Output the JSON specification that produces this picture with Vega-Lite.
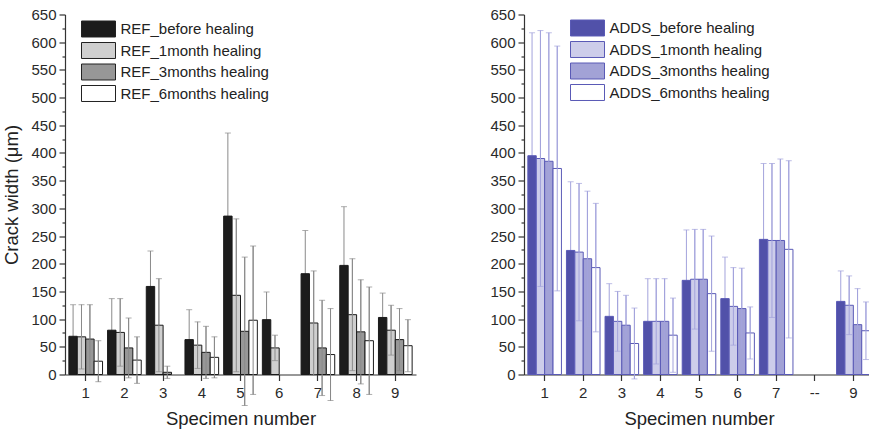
{
  "$schema": "https://vega.github.io/schema/vega-lite/v6.json",
  "background": "white",
  "padding": {"left": 2, "top": 7.5, "right": 0, "bottom": 0},
  "config": {
    "font": "Liberation Sans",
    "view": {"stroke": null},
    "axis": {"labelFont": "Liberation Sans", "labelFontSize": 15, "labelColor": "#2a2a2a", "titleFont": "Liberation Sans", "titleFontSize": 18.5, "titleFontWeight": "normal", "titleColor": "#222", "domainColor": "#333", "tickColor": "#333", "domainWidth": 1.2, "tickWidth": 1.2, "grid": false, "labelOverlap": false, "labelBound": false},
    "legend": {"orient": "none", "title": null, "symbolType": "M-2,-0.94H2V0.94H-2Z", "symbolSize": 289, "labelFont": "Liberation Sans", "labelFontSize": 15, "labelColor": "#222", "labelOffset": 13, "labelLimit": 400, "rowPadding": 1.5, "symbolStrokeWidth": 1, "padding": 0}
  },
  "datasets": {
    "ref": [
      {"specimen": "1", "series": "REF_before healing", "value": 69, "lo": 12, "hi": 126},
      {"specimen": "1", "series": "REF_1month healing", "value": 68, "lo": 10, "hi": 126},
      {"specimen": "1", "series": "REF_3months healing", "value": 64, "lo": 2, "hi": 126},
      {"specimen": "1", "series": "REF_6months healing", "value": 24, "lo": -13, "hi": 61},
      {"specimen": "2", "series": "REF_before healing", "value": 80, "lo": 23, "hi": 137},
      {"specimen": "2", "series": "REF_1month healing", "value": 76, "lo": 15, "hi": 137},
      {"specimen": "2", "series": "REF_3months healing", "value": 48, "lo": -6, "hi": 102},
      {"specimen": "2", "series": "REF_6months healing", "value": 26, "lo": -16, "hi": 68},
      {"specimen": "3", "series": "REF_before healing", "value": 159, "lo": 95, "hi": 223},
      {"specimen": "3", "series": "REF_1month healing", "value": 89, "lo": 5, "hi": 173},
      {"specimen": "3", "series": "REF_3months healing", "value": 4, "lo": -7, "hi": 15},
      {"specimen": "4", "series": "REF_before healing", "value": 63, "lo": 9, "hi": 117},
      {"specimen": "4", "series": "REF_1month healing", "value": 53, "lo": 11, "hi": 95},
      {"specimen": "4", "series": "REF_3months healing", "value": 40, "lo": -7, "hi": 87},
      {"specimen": "4", "series": "REF_6months healing", "value": 31, "lo": -6, "hi": 68},
      {"specimen": "5", "series": "REF_before healing", "value": 286, "lo": 136, "hi": 436},
      {"specimen": "5", "series": "REF_1month healing", "value": 143, "lo": 5, "hi": 281},
      {"specimen": "5", "series": "REF_3months healing", "value": 78, "lo": -56, "hi": 212},
      {"specimen": "5", "series": "REF_6months healing", "value": 98, "lo": -36, "hi": 232},
      {"specimen": "6", "series": "REF_before healing", "value": 99, "lo": 49, "hi": 149},
      {"specimen": "6", "series": "REF_1month healing", "value": 48, "lo": 25, "hi": 71},
      {"specimen": "7", "series": "REF_before healing", "value": 182, "lo": 104, "hi": 260},
      {"specimen": "7", "series": "REF_1month healing", "value": 93, "lo": -1, "hi": 187},
      {"specimen": "7", "series": "REF_3months healing", "value": 48, "lo": -38, "hi": 134},
      {"specimen": "7", "series": "REF_6months healing", "value": 36, "lo": -47, "hi": 119},
      {"specimen": "8", "series": "REF_before healing", "value": 197, "lo": 91, "hi": 303},
      {"specimen": "8", "series": "REF_1month healing", "value": 108, "lo": 7, "hi": 209},
      {"specimen": "8", "series": "REF_3months healing", "value": 77, "lo": -17, "hi": 171},
      {"specimen": "8", "series": "REF_6months healing", "value": 61, "lo": -36, "hi": 158},
      {"specimen": "9", "series": "REF_before healing", "value": 103, "lo": 59, "hi": 147},
      {"specimen": "9", "series": "REF_1month healing", "value": 80, "lo": 35, "hi": 125},
      {"specimen": "9", "series": "REF_3months healing", "value": 63, "lo": 7, "hi": 119},
      {"specimen": "9", "series": "REF_6months healing", "value": 52, "lo": 5, "hi": 99}
    ],
    "adds": [
      {"specimen": "1", "series": "ADDS_before healing", "value": 395, "lo": 173, "hi": 617},
      {"specimen": "1", "series": "ADDS_1month healing", "value": 390, "lo": 159, "hi": 621},
      {"specimen": "1", "series": "ADDS_3months healing", "value": 385, "lo": 153, "hi": 617},
      {"specimen": "1", "series": "ADDS_6months healing", "value": 372, "lo": 151, "hi": 593},
      {"specimen": "2", "series": "ADDS_before healing", "value": 224, "lo": 100, "hi": 348},
      {"specimen": "2", "series": "ADDS_1month healing", "value": 221, "lo": 97, "hi": 345},
      {"specimen": "2", "series": "ADDS_3months healing", "value": 209, "lo": 87, "hi": 331},
      {"specimen": "2", "series": "ADDS_6months healing", "value": 193, "lo": 77, "hi": 309},
      {"specimen": "3", "series": "ADDS_before healing", "value": 105, "lo": 46, "hi": 164},
      {"specimen": "3", "series": "ADDS_1month healing", "value": 96, "lo": 42, "hi": 150},
      {"specimen": "3", "series": "ADDS_3months healing", "value": 89, "lo": 35, "hi": 143},
      {"specimen": "3", "series": "ADDS_6months healing", "value": 56, "lo": -8, "hi": 120},
      {"specimen": "4", "series": "ADDS_before healing", "value": 96, "lo": 19, "hi": 173},
      {"specimen": "4", "series": "ADDS_1month healing", "value": 96, "lo": 19, "hi": 173},
      {"specimen": "4", "series": "ADDS_3months healing", "value": 96, "lo": 19, "hi": 173},
      {"specimen": "4", "series": "ADDS_6months healing", "value": 71, "lo": 4, "hi": 138},
      {"specimen": "5", "series": "ADDS_before healing", "value": 170, "lo": 79, "hi": 261},
      {"specimen": "5", "series": "ADDS_1month healing", "value": 172, "lo": 82, "hi": 262},
      {"specimen": "5", "series": "ADDS_3months healing", "value": 172, "lo": 82, "hi": 262},
      {"specimen": "5", "series": "ADDS_6months healing", "value": 146, "lo": 42, "hi": 250},
      {"specimen": "6", "series": "ADDS_before healing", "value": 137, "lo": 62, "hi": 212},
      {"specimen": "6", "series": "ADDS_1month healing", "value": 123, "lo": 53, "hi": 193},
      {"specimen": "6", "series": "ADDS_3months healing", "value": 119, "lo": 46, "hi": 192},
      {"specimen": "6", "series": "ADDS_6months healing", "value": 75, "lo": 28, "hi": 122},
      {"specimen": "7", "series": "ADDS_before healing", "value": 244, "lo": 107, "hi": 381},
      {"specimen": "7", "series": "ADDS_1month healing", "value": 242, "lo": 103, "hi": 381},
      {"specimen": "7", "series": "ADDS_3months healing", "value": 242, "lo": 95, "hi": 389},
      {"specimen": "7", "series": "ADDS_6months healing", "value": 226, "lo": 66, "hi": 386},
      {"specimen": "9", "series": "ADDS_before healing", "value": 132, "lo": 77, "hi": 187},
      {"specimen": "9", "series": "ADDS_1month healing", "value": 125, "lo": 72, "hi": 178},
      {"specimen": "9", "series": "ADDS_3months healing", "value": 90, "lo": 25, "hi": 155},
      {"specimen": "9", "series": "ADDS_6months healing", "value": 79, "lo": 27, "hi": 131}
    ]
  },
  "spacing": 73,
  "resolve": {"scale": {"x": "independent", "xOffset": "independent", "fill": "independent"}, "legend": {"fill": "independent"}},
  "hconcat": [
    {
      "width": 351,
      "height": 360,
      "data": {"name": "ref"},
      "encoding": {
        "x": {"field": "specimen", "type": "ordinal", "scale": {"domain": ["1", "2", "3", "4", "5", "6", "7", "8", "9"], "paddingInner": 0.13, "paddingOuter": 0.1}, "axis": {"labelAngle": 0, "tickSize": 6, "labelPadding": 5, "title": "Specimen number", "titlePadding": 9}},
        "xOffset": {"field": "series", "type": "nominal", "scale": {"domain": ["REF_before healing", "REF_1month healing", "REF_3months healing", "REF_6months healing"], "paddingInner": 0, "paddingOuter": 0}}
      },
      "layer": [
        {
          "mark": {"type": "rule", "color": "#8a8a8a", "strokeWidth": 1},
          "encoding": {
            "y": {"field": "lo", "type": "quantitative", "scale": {"domain": [0, 650], "nice": false, "zero": false}, "axis": {"title": "Crack width (μm)", "values": [0, 25, 50, 75, 100, 125, 150, 175, 200, 225, 250, 275, 300, 325, 350, 375, 400, 425, 450, 475, 500, 525, 550, 575, 600, 625, 650], "labelExpr": "datum.value % 50 === 0 ? datum.label : ''", "tickSize": {"condition": {"test": "datum.value % 50 === 0", "value": 6}, "value": 3}, "labelPadding": 3, "titlePadding": 9}},
            "y2": {"field": "hi"}
          }
        },
        {
          "mark": {"type": "tick", "color": "#8a8a8a", "size": 6, "thickness": 1},
          "encoding": {"y": {"field": "hi", "type": "quantitative", "scale": {"domain": [0, 650], "nice": false, "zero": false}, "axis": {"title": "Crack width (μm)", "values": [0, 25, 50, 75, 100, 125, 150, 175, 200, 225, 250, 275, 300, 325, 350, 375, 400, 425, 450, 475, 500, 525, 550, 575, 600, 625, 650], "labelExpr": "datum.value % 50 === 0 ? datum.label : ''", "tickSize": {"condition": {"test": "datum.value % 50 === 0", "value": 6}, "value": 3}, "labelPadding": 3, "titlePadding": 9}}}
        },
        {
          "mark": {"type": "bar", "stroke": "#1a1a1a", "strokeWidth": 1},
          "encoding": {
            "y": {"field": "value", "type": "quantitative", "scale": {"domain": [0, 650], "nice": false, "zero": false}, "axis": {"title": "Crack width (μm)", "values": [0, 25, 50, 75, 100, 125, 150, 175, 200, 225, 250, 275, 300, 325, 350, 375, 400, 425, 450, 475, 500, 525, 550, 575, 600, 625, 650], "labelExpr": "datum.value % 50 === 0 ? datum.label : ''", "tickSize": {"condition": {"test": "datum.value % 50 === 0", "value": 6}, "value": 3}, "labelPadding": 3, "titlePadding": 9}},
            "fill": {"field": "series", "type": "nominal", "scale": {"domain": ["REF_before healing", "REF_1month healing", "REF_3months healing", "REF_6months healing"], "range": ["#1c1c1c", "#cfcfcf", "#979797", "#ffffff"]}, "legend": {"legendX": 24.5, "legendY": 5.5, "symbolStrokeColor": "#222"}}
          }
        },
        {
          "transform": [{"filter": "datum.series !== 'REF_before healing'"}],
          "mark": {"type": "rule", "color": "#8a8a8a", "strokeWidth": 1},
          "encoding": {"y": {"field": "lo", "type": "quantitative", "scale": {"domain": [0, 650], "nice": false, "zero": false}, "axis": {"title": "Crack width (μm)", "values": [0, 25, 50, 75, 100, 125, 150, 175, 200, 225, 250, 275, 300, 325, 350, 375, 400, 425, 450, 475, 500, 525, 550, 575, 600, 625, 650], "labelExpr": "datum.value % 50 === 0 ? datum.label : ''", "tickSize": {"condition": {"test": "datum.value % 50 === 0", "value": 6}, "value": 3}, "labelPadding": 3, "titlePadding": 9}}, "y2": {"field": "hi"}}
        },
        {
          "transform": [{"filter": "datum.series !== 'REF_before healing'"}],
          "mark": {"type": "tick", "color": "#8a8a8a", "size": 6, "thickness": 1},
          "encoding": {"y": {"field": "lo", "type": "quantitative", "scale": {"domain": [0, 650], "nice": false, "zero": false}, "axis": {"title": "Crack width (μm)", "values": [0, 25, 50, 75, 100, 125, 150, 175, 200, 225, 250, 275, 300, 325, 350, 375, 400, 425, 450, 475, 500, 525, 550, 575, 600, 625, 650], "labelExpr": "datum.value % 50 === 0 ? datum.label : ''", "tickSize": {"condition": {"test": "datum.value % 50 === 0", "value": 6}, "value": 3}, "labelPadding": 3, "titlePadding": 9}}}
        }
      ]
    },
    {
      "width": 350,
      "height": 360,
      "data": {"name": "adds"},
      "encoding": {
        "x": {"field": "specimen", "type": "ordinal", "scale": {"domain": ["1", "2", "3", "4", "5", "6", "7", "--", "9"], "paddingInner": 0.13, "paddingOuter": 0.1}, "axis": {"labelAngle": 0, "tickSize": 6, "labelPadding": 5, "title": "Specimen number", "titlePadding": 9}},
        "xOffset": {"field": "series", "type": "nominal", "scale": {"domain": ["ADDS_before healing", "ADDS_1month healing", "ADDS_3months healing", "ADDS_6months healing"], "paddingInner": 0, "paddingOuter": 0}}
      },
      "layer": [
        {
          "mark": {"type": "rule", "color": "#a3a3dc", "strokeWidth": 1},
          "encoding": {
            "y": {"field": "lo", "type": "quantitative", "scale": {"domain": [0, 650], "nice": false, "zero": false}, "axis": {"title": null, "values": [0, 25, 50, 75, 100, 125, 150, 175, 200, 225, 250, 275, 300, 325, 350, 375, 400, 425, 450, 475, 500, 525, 550, 575, 600, 625, 650], "labelExpr": "datum.value % 50 === 0 ? datum.label : ''", "tickSize": {"condition": {"test": "datum.value % 50 === 0", "value": 6}, "value": 3}, "labelPadding": 3}},
            "y2": {"field": "hi"}
          }
        },
        {
          "mark": {"type": "tick", "color": "#a3a3dc", "size": 6, "thickness": 1},
          "encoding": {"y": {"field": "hi", "type": "quantitative", "scale": {"domain": [0, 650], "nice": false, "zero": false}, "axis": {"title": null, "values": [0, 25, 50, 75, 100, 125, 150, 175, 200, 225, 250, 275, 300, 325, 350, 375, 400, 425, 450, 475, 500, 525, 550, 575, 600, 625, 650], "labelExpr": "datum.value % 50 === 0 ? datum.label : ''", "tickSize": {"condition": {"test": "datum.value % 50 === 0", "value": 6}, "value": 3}, "labelPadding": 3}}}
        },
        {
          "mark": {"type": "bar", "stroke": "#5a5ab6", "strokeWidth": 1},
          "encoding": {
            "y": {"field": "value", "type": "quantitative", "scale": {"domain": [0, 650], "nice": false, "zero": false}, "axis": {"title": null, "values": [0, 25, 50, 75, 100, 125, 150, 175, 200, 225, 250, 275, 300, 325, 350, 375, 400, 425, 450, 475, 500, 525, 550, 575, 600, 625, 650], "labelExpr": "datum.value % 50 === 0 ? datum.label : ''", "tickSize": {"condition": {"test": "datum.value % 50 === 0", "value": 6}, "value": 3}, "labelPadding": 3}},
            "fill": {"field": "series", "type": "nominal", "scale": {"domain": ["ADDS_before healing", "ADDS_1month healing", "ADDS_3months healing", "ADDS_6months healing"], "range": ["#5151a9", "#cdcdea", "#a2a2d6", "#ffffff"]}, "legend": {"legendX": 54.5, "legendY": 4.5, "symbolStrokeColor": "#5a5ab6"}}
          }
        },
        {
          "transform": [{"filter": "datum.series !== 'ADDS_before healing'"}],
          "mark": {"type": "rule", "color": "#a3a3dc", "strokeWidth": 1},
          "encoding": {"y": {"field": "lo", "type": "quantitative", "scale": {"domain": [0, 650], "nice": false, "zero": false}, "axis": {"title": null, "values": [0, 25, 50, 75, 100, 125, 150, 175, 200, 225, 250, 275, 300, 325, 350, 375, 400, 425, 450, 475, 500, 525, 550, 575, 600, 625, 650], "labelExpr": "datum.value % 50 === 0 ? datum.label : ''", "tickSize": {"condition": {"test": "datum.value % 50 === 0", "value": 6}, "value": 3}, "labelPadding": 3}}, "y2": {"field": "hi"}}
        },
        {
          "transform": [{"filter": "datum.series !== 'ADDS_before healing'"}],
          "mark": {"type": "tick", "color": "#a3a3dc", "size": 6, "thickness": 1},
          "encoding": {"y": {"field": "lo", "type": "quantitative", "scale": {"domain": [0, 650], "nice": false, "zero": false}, "axis": {"title": null, "values": [0, 25, 50, 75, 100, 125, 150, 175, 200, 225, 250, 275, 300, 325, 350, 375, 400, 425, 450, 475, 500, 525, 550, 575, 600, 625, 650], "labelExpr": "datum.value % 50 === 0 ? datum.label : ''", "tickSize": {"condition": {"test": "datum.value % 50 === 0", "value": 6}, "value": 3}, "labelPadding": 3}}}
        }
      ]
    }
  ]
}
